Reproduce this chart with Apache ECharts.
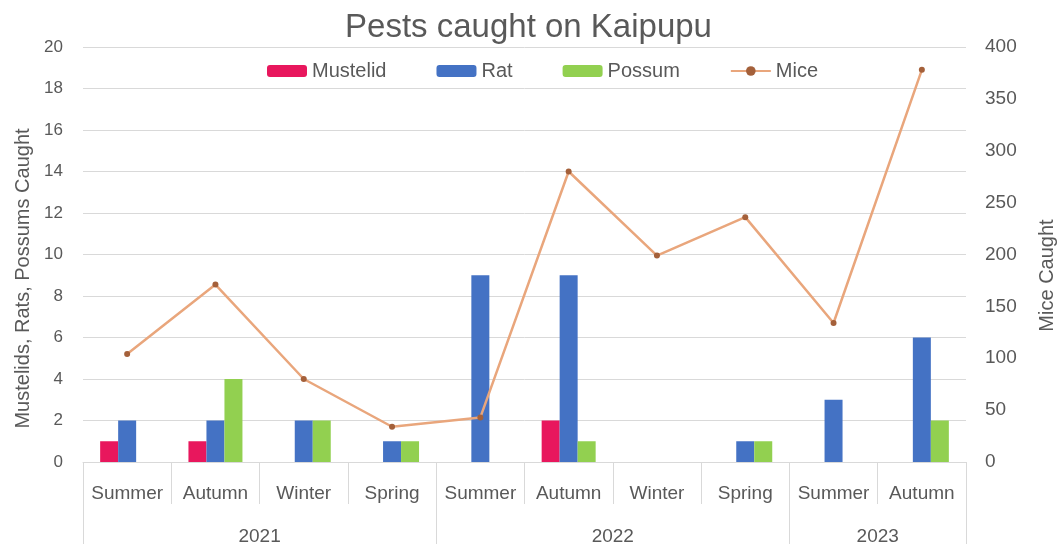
<!DOCTYPE html>
<html>
<head>
<meta charset="utf-8">
<script src="https://cdn.jsdelivr.net/npm/echarts@6/dist/echarts.min.js"></script>
<style>
  html, body { margin: 0; padding: 0; background: #fff; }
  #chart { width: 1057px; height: 544px; }
</style>
</head>
<body>
<div id="chart"></div>
<script>
let myChart = echarts.init(document.getElementById('chart'));

// seasons along the bottom, years grouped underneath
let seasons = ['Summer', 'Autumn', 'Winter', 'Spring', 'Summer', 'Autumn', 'Winter', 'Spring', 'Summer', 'Autumn'];
let years = ['2021', '2022', '2023'];
let yearLabelPos = [4, 12, 18];      // half-category slots for year labels
let yearBreaks = [0, 8, 16, 20];     // half-category slots for group separators

let mustelid = [1, 1, 0, 0, 0, 2, 0, 0, 0, 0];
let rat = [2, 2, 2, 1, 9, 9, 0, 1, 3, 6];
let possum = [0, 4, 2, 1, 0, 1, 0, 1, 0, 2];
let mice = [104, 171, 80, 34, 43, 280, 199, 236, 134, 378];

let leftTicks = [0, 2, 4, 6, 8, 10, 12, 14, 16, 18, 20];
let rightTicks = [0, 50, 100, 150, 200, 250, 300, 350, 400];

// 21 slot axis for the year row
let yearSlots = [];
for (let i = 0; i <= 20; i++) {
  let k = yearLabelPos.indexOf(i);
  yearSlots.push(k != -1 ? years[k] : '');
}

let font = 'Liberation Sans';
let grey = '#595959';
let lineGrey = '#D9D9D9';

option = {
  textStyle: { fontFamily: font },
  title: {
    text: 'Pests caught on Kaipupu',
    left: 'center',
    top: 6,
    textStyle: { fontSize: 33, fontWeight: 'normal', color: grey, fontFamily: font }
  },
  legend: {
    top: 56,
    left: 262,
    itemGap: 50,
    itemWidth: 40,
    itemHeight: 12,
    textStyle: { fontSize: 20, color: grey },
    data: ['Mustelid', 'Rat', 'Possum', 'Mice']
  },
  grid: [
    { left: 83, right: 91, top: 47, bottom: 82, outerBoundsMode: 'none' },
    // strip under the season labels for the year row
    { left: 83, right: 91, top: 504, bottom: 0, outerBoundsMode: 'none' }
  ],
  xAxis: [
    {
      type: 'category',
      gridIndex: 0,
      data: seasons,
      axisLine: { lineStyle: { color: lineGrey } },
      axisTick: { show: true, length: 42, lineStyle: { color: lineGrey } },
      axisLabel: { margin: 22, fontSize: 19, color: grey, interval: 0 }
    },
    {
      type: 'category',
      gridIndex: 1,
      boundaryGap: false,
      data: yearSlots,
      axisLine: { show: false },
      axisTick: { show: false },
      splitLine: {
        show: true,
        interval: function (index) { return yearBreaks.indexOf(index) != -1; },
        lineStyle: { color: lineGrey }
      },
      axisLabel: {
        inside: true,
        margin: -2,
        fontSize: 19,
        color: grey,
        interval: function (index) { return yearLabelPos.indexOf(index) != -1; }
      }
    }
  ],
  yAxis: [
    {
      type: 'value',
      gridIndex: 0,
      name: 'Mustelids, Rats, Possums Caught',
      nameLocation: 'middle',
      nameGap: 50,
      nameTextStyle: { fontSize: 20, color: grey, padding: [0, 48, 0, 0] },
      min: leftTicks[0],
      max: leftTicks[leftTicks.length - 1],
      interval: 2,
      axisLabel: { fontSize: 17, color: grey, margin: 20 },
      splitLine: { lineStyle: { color: lineGrey } }
    },
    {
      type: 'value',
      gridIndex: 0,
      name: 'Mice Caught',
      nameLocation: 'middle',
      nameGap: 71,
      nameTextStyle: { fontSize: 20, color: grey, padding: [0, 42, 0, 0] },
      min: rightTicks[0],
      max: rightTicks[rightTicks.length - 1],
      interval: 50,
      axisLabel: { fontSize: 19, color: grey, margin: 19 },
      splitLine: { show: false }
    },
    {
      type: 'value',
      gridIndex: 1,
      show: false
    }
  ],
  series: [
    {
      name: 'Mustelid',
      type: 'bar',
      data: mustelid,
      barWidth: 18,
      barGap: '0%',
      itemStyle: { color: '#E8175D' }
    },
    {
      name: 'Rat',
      type: 'bar',
      data: rat,
      barWidth: 18,
      barGap: '0%',
      itemStyle: { color: '#4472C4' }
    },
    {
      name: 'Possum',
      type: 'bar',
      data: possum,
      barWidth: 18,
      barGap: '0%',
      itemStyle: { color: '#92D050' }
    },
    {
      name: 'Mice',
      type: 'line',
      yAxisIndex: 1,
      data: mice,
      z: 5,
      symbol: 'circle',
      symbolSize: 6,
      lineStyle: { color: '#E9A67C', width: 2.5 },
      itemStyle: { color: '#A4603A' }
    }
  ]
};

myChart.setOption(option);
</script>
</body>
</html>
